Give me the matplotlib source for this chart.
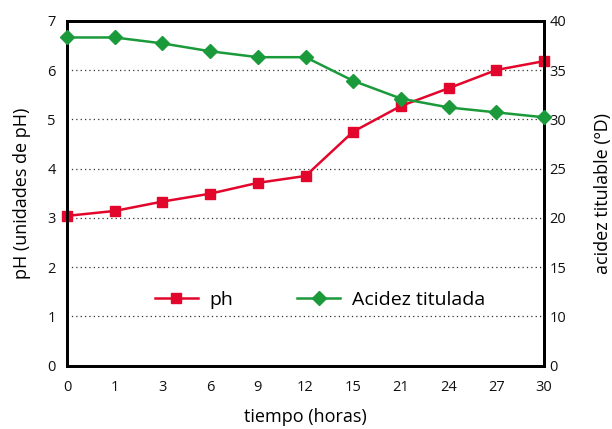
import numpy as np
import matplotlib.pyplot as plt

# datos
horas = ['0', '1', '3', '6', '9', '12', '15', '21', '24', '27', '30']
ph = [3.04, 3.14, 3.33, 3.49, 3.71, 3.85, 4.75, 5.27, 5.63, 6.00, 6.18]
acidez = [38.3, 38.3, 37.7, 36.9, 36.3, 36.3, 33.9, 32.1, 31.2, 30.7, 30.2]

# el eje derecho no es lineal: 0 se dibuja donde iria 5
der_ticks = [5, 10, 15, 20, 25, 30, 35, 40]
der_labels = ['0', '10', '15', '20', '25', '30', '35', '40']

plt.rcParams['font.family'] = ['Open Sans', 'DejaVu Sans']

rojo = '#e2062c'
verde = '#1a9a3a'

fig = plt.figure(figsize=(6.12, 4.29), dpi=100)
ax = fig.add_axes([0.1095, 0.1476, 0.7795, 0.8041])
ax2 = ax.twinx()

x = np.arange(len(horas))
l1, = ax.plot(x, ph, color=rojo, lw=1.8, marker='s', ms=7, clip_on=False, zorder=3, label='ph')
l2, = ax2.plot(x, acidez, color=verde, lw=1.8, marker='D', ms=7, clip_on=False, zorder=3,
               label='Acidez titulada')

ax.set_xlim(0, len(horas) - 1)
ax.set_ylim(0, 7)
ax2.set_ylim(5, 40)
ax.set_xticks(x)
ax.set_xticklabels(horas)
ax.set_yticks(range(8))
ax2.set_yticks(der_ticks)
ax2.set_yticklabels(der_labels)

for a in (ax, ax2):
    a.tick_params(length=0, labelsize=10.5, colors='#111111')
    for s in a.spines.values():
        s.set_linewidth(2)
ax.tick_params(axis='x', pad=10)
ax.tick_params(axis='y', pad=8)
ax2.tick_params(axis='y', pad=4)

ax.grid(axis='y', linestyle=(0, (1, 2.5)), color='#333333', lw=0.9)
ax.set_axisbelow(True)

ax.set_xlabel('tiempo (horas)', fontsize=13, labelpad=10)
ax.set_ylabel('pH (unidades de pH)', fontsize=13, labelpad=12)
ax2.set_ylabel('acidez titulable (ºD)', fontsize=13, labelpad=20)

ax.legend([l1, l2], ['ph', 'Acidez titulada'], loc='center', bbox_to_anchor=(0.53, 0.19),
          ncol=2, frameon=False, fontsize=14, handlelength=2.2, columnspacing=3.3,
          handletextpad=0.6)

fig.savefig('out.png', dpi=100)
